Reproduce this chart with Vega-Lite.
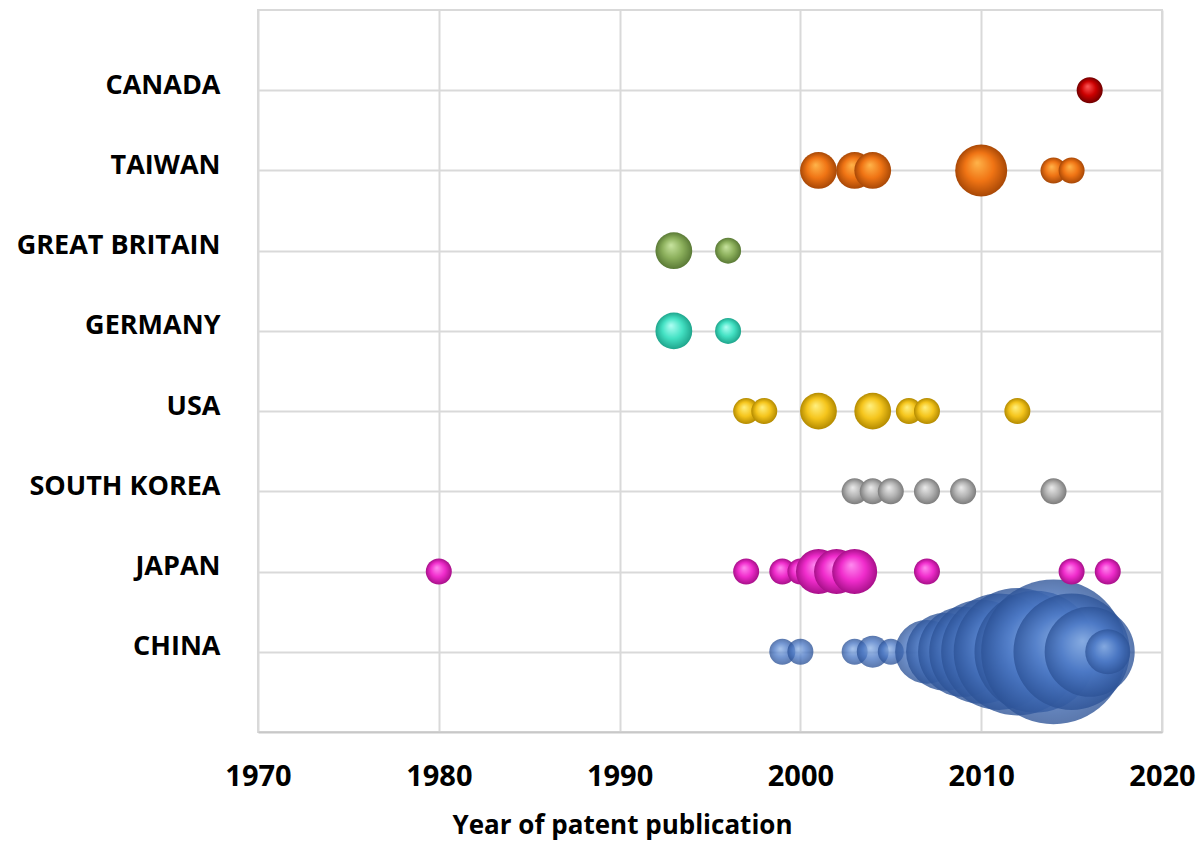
{
  "$schema": "https://vega.github.io/schema/vega-lite/v6.json",
  "width": 904,
  "height": 722,
  "autosize": {"type": "none"},
  "padding": {"left": 258, "top": 10, "right": 41, "bottom": 112},
  "background": "white",
  "config": {"view": {"stroke": "#d9d9d9", "strokeWidth": 2}, "font": "Open Sans"},
  "data": {
    "values": [
      {"country": "CANADA", "year": 2016, "patents": 1},
      {"country": "TAIWAN", "year": 2001, "patents": 2},
      {"country": "TAIWAN", "year": 2003, "patents": 2},
      {"country": "TAIWAN", "year": 2004, "patents": 2},
      {"country": "TAIWAN", "year": 2010, "patents": 4},
      {"country": "TAIWAN", "year": 2014, "patents": 1},
      {"country": "TAIWAN", "year": 2015, "patents": 1},
      {"country": "GREAT BRITAIN", "year": 1993, "patents": 2},
      {"country": "GREAT BRITAIN", "year": 1996, "patents": 1},
      {"country": "GERMANY", "year": 1993, "patents": 2},
      {"country": "GERMANY", "year": 1996, "patents": 1},
      {"country": "USA", "year": 1997, "patents": 1},
      {"country": "USA", "year": 1998, "patents": 1},
      {"country": "USA", "year": 2001, "patents": 2},
      {"country": "USA", "year": 2004, "patents": 2},
      {"country": "USA", "year": 2006, "patents": 1},
      {"country": "USA", "year": 2007, "patents": 1},
      {"country": "USA", "year": 2012, "patents": 1},
      {"country": "SOUTH KOREA", "year": 2003, "patents": 1},
      {"country": "SOUTH KOREA", "year": 2004, "patents": 1},
      {"country": "SOUTH KOREA", "year": 2005, "patents": 1},
      {"country": "SOUTH KOREA", "year": 2007, "patents": 1},
      {"country": "SOUTH KOREA", "year": 2009, "patents": 1},
      {"country": "SOUTH KOREA", "year": 2014, "patents": 1},
      {"country": "JAPAN", "year": 1980, "patents": 1},
      {"country": "JAPAN", "year": 1997, "patents": 1},
      {"country": "JAPAN", "year": 1999, "patents": 1},
      {"country": "JAPAN", "year": 2000, "patents": 1},
      {"country": "JAPAN", "year": 2001, "patents": 3},
      {"country": "JAPAN", "year": 2002, "patents": 3},
      {"country": "JAPAN", "year": 2003, "patents": 3},
      {"country": "JAPAN", "year": 2007, "patents": 1},
      {"country": "JAPAN", "year": 2015, "patents": 1},
      {"country": "JAPAN", "year": 2017, "patents": 1},
      {"country": "CHINA", "year": 1999, "patents": 1},
      {"country": "CHINA", "year": 2000, "patents": 1},
      {"country": "CHINA", "year": 2003, "patents": 1},
      {"country": "CHINA", "year": 2004, "patents": 1.5},
      {"country": "CHINA", "year": 2005, "patents": 1},
      {"country": "CHINA", "year": 2007, "patents": 6},
      {"country": "CHINA", "year": 2008, "patents": 9},
      {"country": "CHINA", "year": 2009, "patents": 12},
      {"country": "CHINA", "year": 2010, "patents": 16},
      {"country": "CHINA", "year": 2011, "patents": 20},
      {"country": "CHINA", "year": 2012, "patents": 24},
      {"country": "CHINA", "year": 2013, "patents": 22},
      {"country": "CHINA", "year": 2014, "patents": 31},
      {"country": "CHINA", "year": 2015, "patents": 20},
      {"country": "CHINA", "year": 2016, "patents": 12},
      {"country": "CHINA", "year": 2017, "patents": 3}
    ]
  },
  "encoding": {
    "x": {
      "field": "year", "type": "quantitative",
      "scale": {"domain": [1970, 2020], "nice": false, "zero": false},
      "axis": {
        "values": [1970, 1980, 1990, 2000, 2010, 2020], "format": "d",
        "title": "Year of patent publication",
        "grid": true, "gridColor": "#d9d9d9", "gridWidth": 2,
        "domain": true, "domainColor": "#c8c8c8", "domainWidth": 2,
        "ticks": false, "tickSize": 0,
        "labelFont": "Open Sans", "labelFontWeight": "bold", "labelFontSize": 29, "labelColor": "black",
        "labelPadding": 53, "labelBaseline": "alphabetic", "labelFlush": false,
        "titleFont": "Open Sans", "titleFontWeight": "bold", "titleFontSize": 26, "titleColor": "black",
        "titleX": 364, "titleY": 101, "titleAlign": "center", "titleBaseline": "alphabetic", "titleAnchor": null
      }
    },
    "y": {
      "field": "country", "type": "nominal",
      "scale": {"type": "point", "padding": 1, "domain": ["CANADA", "TAIWAN", "GREAT BRITAIN", "GERMANY", "USA", "SOUTH KOREA", "JAPAN", "CHINA"]},
      "axis": {
        "title": null, "grid": true, "gridColor": "#d9d9d9", "gridWidth": 2,
        "domain": false, "ticks": false, "tickSize": 0,
        "labelFont": "Open Sans", "labelFontWeight": "bold", "labelFontSize": 27, "labelColor": "black",
        "labelPadding": 38, "labelOffset": -5, "labelBaseline": "middle", "labelLimit": 0
      }
    },
    "size": {
      "field": "patents", "type": "quantitative",
      "scale": {"type": "linear", "domain": [0, 31], "range": [0, 20956], "zero": true},
      "legend": null
    },
    "order": [{"field": "patents", "sort": "descending"}, {"field": "year", "sort": "ascending"}]
  },
  "layer": [
    {
      "transform": [{"filter": "datum.country === 'CHINA'"}],
      "mark": {"type": "circle", "opacity": 0.78, "fill": {"gradient": "radial", "x1": 0.42, "y1": 0.38, "r1": 0, "x2": 0.5, "y2": 0.5, "r2": 0.5, "stops": [{"offset": 0, "color": "#8fb3e6"}, {"offset": 0.55, "color": "#4c79c6"}, {"offset": 1, "color": "#2c5296"}]}}
    },
    {
      "transform": [{"filter": "datum.country === 'JAPAN'"}],
      "mark": {"type": "circle", "opacity": 1, "fill": {"gradient": "radial", "x1": 0.42, "y1": 0.35, "r1": 0, "x2": 0.5, "y2": 0.5, "r2": 0.5, "stops": [{"offset": 0, "color": "#ff8cf0"}, {"offset": 0.55, "color": "#f02ccc"}, {"offset": 1, "color": "#a8108a"}]}}
    },
    {
      "transform": [{"filter": "datum.country === 'SOUTH KOREA'"}],
      "mark": {"type": "circle", "opacity": 1, "fill": {"gradient": "radial", "x1": 0.42, "y1": 0.35, "r1": 0, "x2": 0.5, "y2": 0.5, "r2": 0.5, "stops": [{"offset": 0, "color": "#ececec"}, {"offset": 0.55, "color": "#b4b4b4"}, {"offset": 1, "color": "#7c7c7c"}]}}
    },
    {
      "transform": [{"filter": "datum.country === 'USA'"}],
      "mark": {"type": "circle", "opacity": 1, "fill": {"gradient": "radial", "x1": 0.42, "y1": 0.35, "r1": 0, "x2": 0.5, "y2": 0.5, "r2": 0.5, "stops": [{"offset": 0, "color": "#fff080"}, {"offset": 0.55, "color": "#f5c51c"}, {"offset": 1, "color": "#b38a00"}]}}
    },
    {
      "transform": [{"filter": "datum.country === 'GERMANY'"}],
      "mark": {"type": "circle", "opacity": 1, "fill": {"gradient": "radial", "x1": 0.42, "y1": 0.35, "r1": 0, "x2": 0.5, "y2": 0.5, "r2": 0.5, "stops": [{"offset": 0, "color": "#b0fff4"}, {"offset": 0.55, "color": "#44e2c4"}, {"offset": 1, "color": "#1fa58c"}]}}
    },
    {
      "transform": [{"filter": "datum.country === 'GREAT BRITAIN'"}],
      "mark": {"type": "circle", "opacity": 1, "fill": {"gradient": "radial", "x1": 0.42, "y1": 0.35, "r1": 0, "x2": 0.5, "y2": 0.5, "r2": 0.5, "stops": [{"offset": 0, "color": "#c8e4a0"}, {"offset": 0.55, "color": "#8cb05c"}, {"offset": 1, "color": "#5a7a36"}]}}
    },
    {
      "transform": [{"filter": "datum.country === 'TAIWAN'"}],
      "mark": {"type": "circle", "opacity": 1, "fill": {"gradient": "radial", "x1": 0.42, "y1": 0.35, "r1": 0, "x2": 0.5, "y2": 0.5, "r2": 0.5, "stops": [{"offset": 0, "color": "#ffb44a"}, {"offset": 0.55, "color": "#f07414"}, {"offset": 1, "color": "#a84806"}]}}
    },
    {
      "transform": [{"filter": "datum.country === 'CANADA'"}],
      "mark": {"type": "circle", "opacity": 1, "fill": {"gradient": "radial", "x1": 0.42, "y1": 0.35, "r1": 0, "x2": 0.5, "y2": 0.5, "r2": 0.5, "stops": [{"offset": 0, "color": "#ff5a5a"}, {"offset": 0.55, "color": "#cc0000"}, {"offset": 1, "color": "#700000"}]}}
    }
  ]
}
